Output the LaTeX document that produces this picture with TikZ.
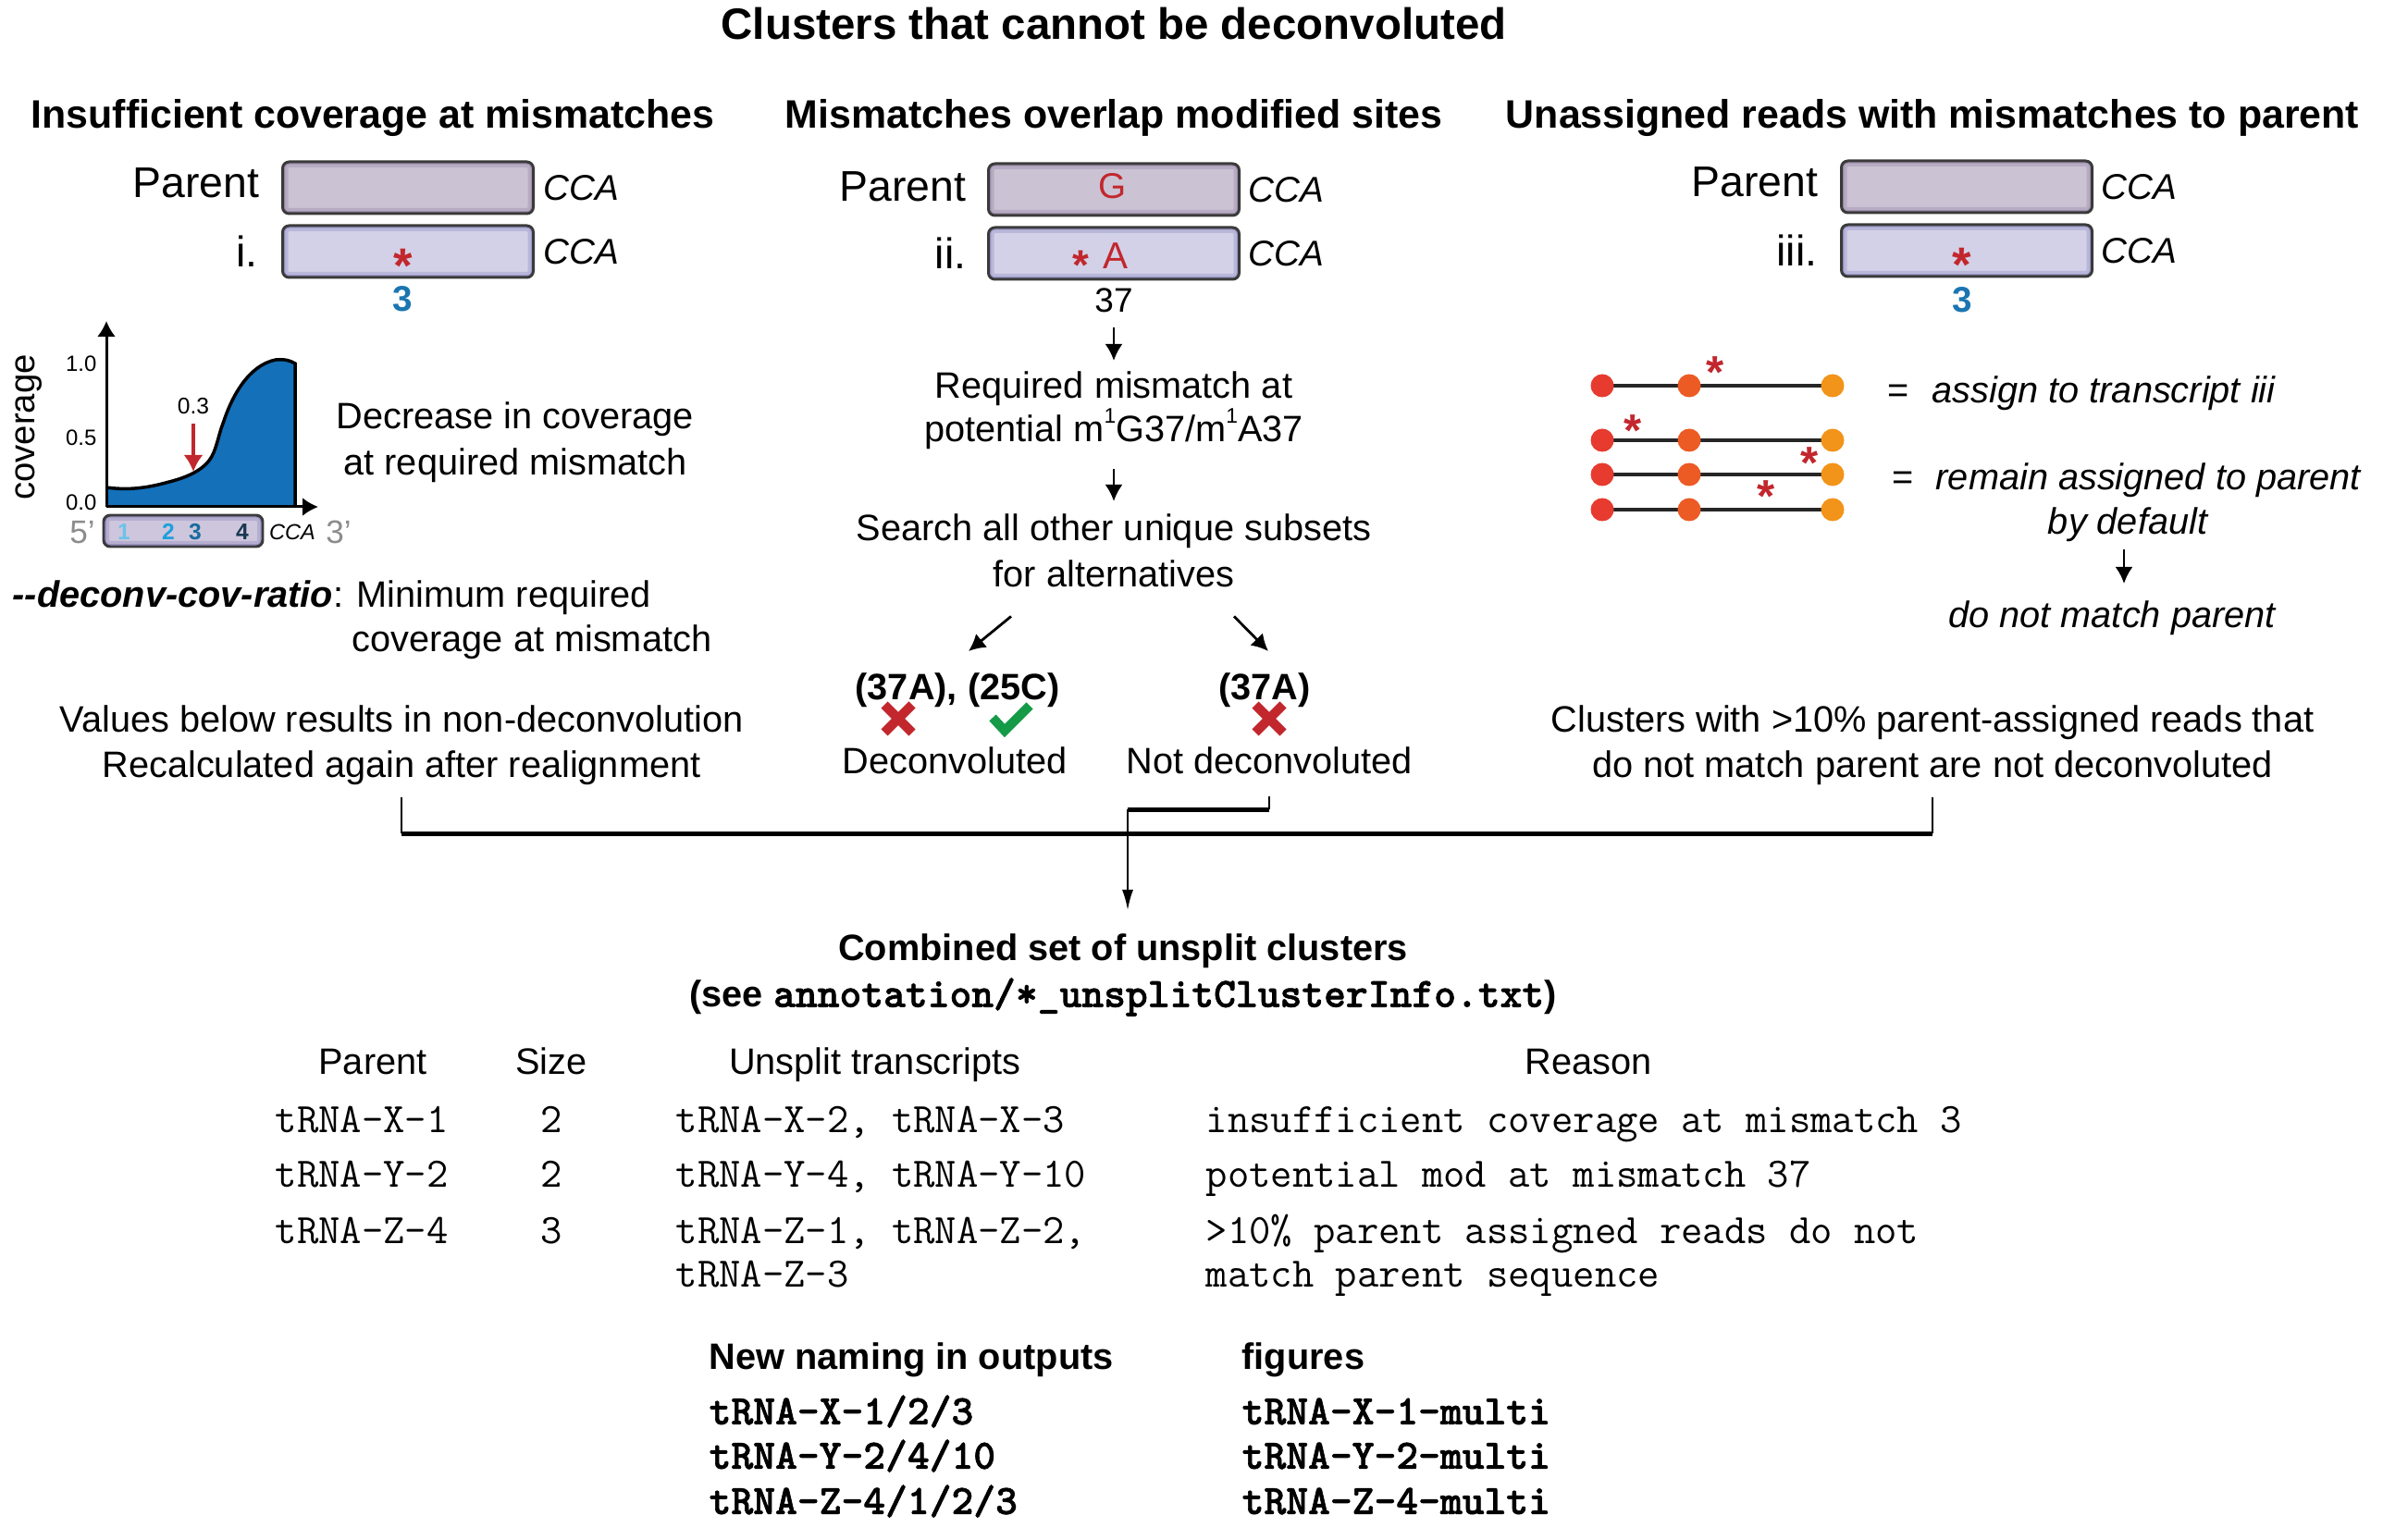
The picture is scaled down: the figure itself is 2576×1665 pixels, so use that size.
\documentclass[tikz,border=0pt]{standalone}
\usepackage{fontspec}
\setmainfont{Liberation Sans}
\usepackage{xcolor}
\usepackage{tikz}
\usetikzlibrary{positioning}
\usetikzlibrary{backgrounds}
\usetikzlibrary{calc}
\usetikzlibrary{arrows.meta}

\definecolor{markred}{HTML}{C1272D}
\definecolor{markgreen}{HTML}{159A48}
\definecolor{numblue}{HTML}{1B75B0}
\definecolor{covfill}{HTML}{1470B8}
\definecolor{boxedge}{HTML}{3A3A3A}
\definecolor{parentfill}{HTML}{CBC3D3}
\definecolor{parentglow}{HTML}{6E5A86}
\definecolor{variantfill}{HTML}{D2D1E7}
\definecolor{variantglow}{HTML}{5E5AA8}
\definecolor{minifill}{HTML}{CEC6DC}
\definecolor{posA}{HTML}{6CC3E9}
\definecolor{posB}{HTML}{1DA0DB}
\definecolor{posC}{HTML}{1A6C9E}
\definecolor{posD}{HTML}{18384F}
\definecolor{endgray}{HTML}{8C8C8C}
\definecolor{readA}{HTML}{E63B2E}
\definecolor{readB}{HTML}{EC5B24}
\definecolor{readC}{HTML}{F3941A}

\newfontfamily\codeboldfamily[FakeBold=1.4]{lmmonolt10-bold.otf}
\newcommand{\codefont}{\fontsize{12.9}{15}\selectfont\ttfamily}
\newcommand{\codebold}{\fontsize{12.9}{15}\selectfont\codeboldfamily}
\newcommand{\supone}{\raisebox{0.95ex}{\fontsize{6.5}{7}\selectfont 1}}

\tikzset{
  txt/.style={inner sep=0pt, text height=2.86mm, text depth=0pt, font=\fontsize{11.3}{13.6}\selectfont},
  itxt/.style={txt, font=\fontsize{11.3}{13.6}\selectfont\itshape},
  boldtxt/.style={txt, font=\fontsize{11.3}{13.6}\selectfont\bfseries},
  head/.style={inner sep=0pt, text height=3.08mm, text depth=0pt, font=\fontsize{12.2}{14.6}\selectfont\bfseries},
  titletxt/.style={inner sep=0pt, text height=3.41mm, text depth=0pt, font=\fontsize{13.5}{16}\selectfont\bfseries},
  bigtxt/.style={inner sep=0pt, text height=3.33mm, text depth=0pt, font=\fontsize{13.2}{15.8}\selectfont},
  ccatxt/.style={inner sep=0pt, text height=2.8mm, text depth=0pt, font=\fontsize{11}{13}\selectfont\itshape},
  ticktxt/.style={inner sep=0pt, text height=1.72mm, text depth=0pt, font=\fontsize{6.8}{8}\selectfont},
  posnum/.style={inner sep=0pt, text height=2.8mm, text depth=0pt, text=numblue, font=\fontsize{11}{13}\selectfont\bfseries},
  mininum/.style={inner sep=0pt, text height=1.77mm, text depth=0pt, font=\fontsize{7}{8}\selectfont\bfseries},
  endtxt/.style={inner sep=0pt, text height=2.5mm, text depth=0pt, text=endgray, font=\fontsize{10}{12}\selectfont},
  boxletter/.style={inner sep=0pt, text height=2.8mm, text depth=0pt, text=markred, font=\fontsize{11}{13}\selectfont},
  boxstar/.style={inner sep=0pt, text height=3.79mm, text depth=0pt, yshift=-1mm, text=markred, font=\fontsize{15}{15}\selectfont\bfseries},
  smallstar/.style={inner sep=0pt, text height=3.29mm, text depth=0pt, yshift=-0.9mm, text=markred, font=\fontsize{13}{13}\selectfont\bfseries},
  readstar/.style={inner sep=0pt, text height=3.54mm, text depth=0pt, yshift=-0.8mm, text=markred, font=\fontsize{14}{14}\selectfont\bfseries},
  cell/.style={inner sep=0pt, text height=2.78mm, text depth=0pt, anchor=west, font=\codefont},
  cellc/.style={cell, anchor=center},
  boldcell/.style={cell, font=\codebold},
  glow/.style={path picture={
    \draw[#1, line width=1.2mm, opacity=0.22] (path picture bounding box.south west) rectangle (path picture bounding box.north east);
    \draw[#1, line width=0.55mm, opacity=0.3] (path picture bounding box.south west) rectangle (path picture bounding box.north east);}},
  parentbox/.style={draw=boxedge, line width=0.85pt, fill=parentfill, rounded corners=0.7mm, minimum width=27.1mm, minimum height=5.6mm, inner sep=0pt, glow=parentglow},
  variantbox/.style={parentbox, fill=variantfill, glow=variantglow},
  minibox/.style={parentbox, fill=minifill, glow=variantglow, minimum width=17.2mm, minimum height=3.4mm},
  readdot/.style={circle, inner sep=0pt, minimum size=2.5mm},
  readline/.style={draw=black!85, line width=0.32mm},
  arr/.style={-{Latex[length=1.8mm,width=1.9mm]}, line width=0.28mm},
  axis/.style={-{Latex[length=1.7mm,width=2mm]}, line width=0.3mm},
  cutarrow/.style={-{Latex[length=1.8mm,width=2.1mm]}, line width=0.35mm, draw=markred},
  feed/.style={line width=0.2mm},
  busline/.style={line width=0.5mm},
  feedarrow/.style={-{Latex[length=2.2mm,width=1.2mm]}, line width=0.2mm},
  crossmark/.style={draw=markred, line width=1mm},
  checkmark/.style={draw=markgreen, line width=1mm, line join=miter}
}

\begin{document}
\begin{tikzpicture}[x=0.1mm, y=-0.1mm]
 \useasboundingbox (0,0) rectangle (2576,1665);

 % title and column heads
 \node (title) [titletxt] at (1204,25) {Clusters that cannot be deconvoluted};
 \node (covhead) [head] at (403,123) {Insufficient coverage at mismatches};
 \node (modhead) [head] at (1204,123) {Mismatches overlap modified sites};
 \node (readhead) [head] at (2089,123) {Unassigned reads with mismatches to parent};

 % left column: insufficient coverage
 \node (parA) [parentbox] at (441,203) {};
 \node (varA) [variantbox] at (441,272) {};
 \node (parAname) [bigtxt, left=2.3mm of parA, yshift=0.6mm] {Parent};
 \node (varAname) [bigtxt, left=2.5mm of varA] {i.};
 \node (parAend) [ccatxt, right=0.9mm of parA] {CCA};
 \node (varAend) [ccatxt, right=0.9mm of varA] {CCA};
 \node (varAstar) [boxstar] at (436,277) {*};
 \node (varApos) [posnum] at (435,323) {3};

 \fill[covfill] (115,527) .. controls (130,529) and (150,530) .. (179,522) .. controls (195,518) and (215,512) .. (226,498) .. controls (234,488) and (236,470) .. (241,458) .. controls (250,430) and (268,395) .. (298,389) .. controls (308,388) and (314,390) .. (319,393) -- (319,548) -- (115,548) -- cycle;
 \draw[line width=0.35mm] (115,527) .. controls (130,529) and (150,530) .. (179,522) .. controls (195,518) and (215,512) .. (226,498) .. controls (234,488) and (236,470) .. (241,458) .. controls (250,430) and (268,395) .. (298,389) .. controls (308,388) and (314,390) .. (319,393) -- (319,548);
 \coordinate (origin) at (115,548);
 \draw[axis] (origin) -- (115,347);
 \draw[axis] (origin) -- (344,548);
 \node (tickhi) [ticktxt, anchor=east] at (105,393) {1.0};
 \node (tickmid) [ticktxt, anchor=east] at (105,473) {0.5};
 \node (ticklo) [ticktxt, anchor=east] at (105,543) {0.0};
 \node (covlabel) [txt, font=\fontsize{10.9}{12}\selectfont, rotate=90] at (23,462) {coverage};
 \node (cut) [ticktxt, font=\fontsize{7}{8}\selectfont] at (209,439) {0.3};
 \coordinate (dip) at (209,510);
 \draw[cutarrow] ([yshift=-1mm]cut.south) -- (dip);

 \node (mini) [minibox] at (198,574) {};
 \node (miniA) [mininum, text=posA] at (134,575) {1};
 \node (miniB) [mininum, text=posB] at (182,575) {2};
 \node (miniC) [mininum, text=posC] at (211,575) {3};
 \node (miniD) [mininum, text=posD] at (262,575) {4};
 \node (fiveend) [endtxt] at (89,575) {5’};
 \node (minicca) [ticktxt, font=\fontsize{6.7}{8}\selectfont\itshape] at (316,575) {CCA};
 \node (threeend) [endtxt] at (366,575) {3’};

 \node (drop) [txt] at (557,449) {Decrease in coverage};
 \node (drop2) [txt, below=2.04mm of drop] {at required mismatch};

 \node (ratio) [txt, anchor=west] at (13,642) {\textbf{\textit{{-}{-}deconv-cov-ratio}}: Minimum required};
 \node (ratio2) [txt, anchor=west] at (380,690) {coverage at mismatch};
 \node (values) [txt] at (434,777) {Values below results in non-deconvolution};
 \node (recalc) [txt, below=1.94mm of values] {Recalculated again after realignment};

 % middle column: modified sites
 \node (parB) [parentbox] at (1204,205) {};
 \node (varB) [variantbox] at (1204,274) {};
 \node (parBname) [bigtxt, left=2.2mm of parB, yshift=0.4mm] {Parent};
 \node (varBname) [bigtxt, left=2.2mm of varB] {ii.};
 \node (parBend) [ccatxt, right=0.8mm of parB] {CCA};
 \node (varBend) [ccatxt, right=0.8mm of varB] {CCA};
 \node (parBbase) [boxletter] at (1203,201) {G};
 \node (varBstar) [smallstar] at (1168,277) {*};
 \node (varBbase) [boxletter, font=\fontsize{11.5}{13}\selectfont] at (1206,277) {A};
 \node (num37) [txt, font=\fontsize{10.5}{12}\selectfont, text height=2.65mm] at (1204,324) {37};

 \node (req) [txt] at (1204,416) {Required mismatch at};
 \node (pot) [txt, below=1.74mm of req] {potential m\supone G37/m\supone A37};
 \node (search) [txt] at (1204,570) {Search all other unique subsets};
 \node (alt) [txt, below=2.04mm of search] {for alternatives};

 \node (split) [boldtxt] at (1035,742) {(37A), (25C)};
 \node (nosplit) [boldtxt] at (1367,742) {(37A)};
 \node (dec) [txt] at (1032,822) {Deconvoluted};
 \node (notdec) [txt] at (1372,822) {Not deconvoluted};

 \draw[arr] ([yshift=-1.6mm]num37.south) -- ([yshift=1.1mm]req.north);
 \draw[arr] ([yshift=-2.9mm]pot.south) -- ([yshift=1.3mm]search.north);
 \draw[arr] ($(alt.south)+(-111,31)$) -- ($(split.north)+(12,-23)$);
 \draw[arr] ($(alt.south)+(130,31)$) -- ($(nosplit.north)+(4,-23)$);

 \draw[crossmark] (956,762) -- (986,792);
 \draw[crossmark] (956,792) -- (986,762);
 \draw[checkmark] (1073,776) -- (1086,790) -- (1113,763);
 \draw[crossmark] (1357,762) -- (1387,792);
 \draw[crossmark] (1357,792) -- (1387,762);

 % right column: unassigned reads
 \node (parC) [parentbox] at (2126,202) {};
 \node (varC) [variantbox] at (2126,271) {};
 \node (parCname) [bigtxt, left=2.3mm of parC, yshift=0.6mm] {Parent};
 \node (varCname) [bigtxt, left=2.4mm of varC] {iii.};
 \node (parCend) [ccatxt, right=0.8mm of parC] {CCA};
 \node (varCend) [ccatxt, right=0.8mm of varC] {CCA};
 \node (varCstar) [boxstar] at (2121,276) {*};
 \node (varCpos) [posnum] at (2121,324) {3};

 \node (rdA1) [readdot, fill=readA] at (1732,417) {};
 \node (rdB1) [readdot, fill=readB] at (1826,417) {};
 \node (rdC1) [readdot, fill=readC] at (1981,417) {};
 \node (rdA2) [readdot, fill=readA] at (1732,476) {};
 \node (rdB2) [readdot, fill=readB] at (1826,476) {};
 \node (rdC2) [readdot, fill=readC] at (1981,476) {};
 \node (rdA3) [readdot, fill=readA] at (1732,513) {};
 \node (rdB3) [readdot, fill=readB] at (1826,513) {};
 \node (rdC3) [readdot, fill=readC] at (1981,513) {};
 \node (rdA4) [readdot, fill=readA] at (1732,551) {};
 \node (rdB4) [readdot, fill=readB] at (1826,551) {};
 \node (rdC4) [readdot, fill=readC] at (1981,551) {};
 \node (rdS1) [readstar] at (1854,394) {*};
 \node (rdS2) [readstar] at (1765,457) {*};
 \node (rdS3) [readstar] at (1956,492) {*};
 \node (rdS4) [readstar] at (1909,528) {*};

 \node (eqA) [txt] at (2052,421) {=};
 \node (assign) [itxt, anchor=west] at (2088,421) {assign to transcript iii};
 \node (eqB) [txt] at (2057,515) {=};
 \node (remain) [itxt, anchor=west] at (2092,515) {remain assigned to parent};
 \node (default) [itxt] at (2300,563) {by default};
 \node (nomatch) [itxt] at (2283,664) {do not match parent};
 \draw[arr] ([xshift=-0.4mm,yshift=-1.6mm]default.south) -- ([xshift=-0.4mm,yshift=1.8mm]default.south |- nomatch.north);

 \node (clusA) [txt] at (2089,777) {Clusters with >10\% parent-assigned reads that};
 \node (clusB) [txt, below=1.94mm of clusA] {do not match parent are not deconvoluted};

 % joining lines
 \coordinate (bus) at (0,901);
 \coordinate (bend) at (1219,875);
 \draw[feed] ([yshift=-2.1mm]recalc.south) -- (recalc.south |- bus);
 \draw[feed] ([yshift=-2.1mm]clusB.south) -- (clusB.south |- bus);
 \draw[busline] (recalc.south |- bus) -- (clusB.south |- bus);
 \draw[feed] ([yshift=-2.4mm]notdec.south) -- (notdec.south |- bend);
 \draw[busline] (notdec.south |- bend) -- (bend);

 % combined table
 \node (combined) [boldtxt] at (1214,1024) {Combined set of unsplit clusters};
 \node (seefile) [boldtxt, below=2.04mm of combined] {(see {\codebold annotation/*\_unsplitClusterInfo.txt})};
 \draw[feedarrow] (bend) -- ([yshift=2.5mm]bend |- combined.north);

 \node (hParent) [txt] at (403,1147) {Parent};
 \node (hSize) [txt] at (596,1147) {Size};
 \node (hUnsplit) [txt] at (946,1147) {Unsplit transcripts};
 \node (hReason) [txt] at (1717,1147) {Reason};

 \node (pX) [cell] at (297,1211) {tRNA-X-1};
 \node (pY) [cell, below=5.9mm of pX.west, anchor=west] {tRNA-Y-2};
 \node (pZ) [cell, below=6.1mm of pY.west, anchor=west] {tRNA-Z-4};

 \node (sX) [cellc] at (596,1211) {2};
 \node (sY) [cellc] at (sX |- pY) {2};
 \node (sZ) [cellc] at (sX |- pZ) {3};

 \node (uX) [cell] at (730,1211) {tRNA-X-2, tRNA-X-3};
 \node (uY) [cell] at (uX.west |- pY) {tRNA-Y-4, tRNA-Y-10};
 \node (uZ) [cell] at (uX.west |- pZ) {tRNA-Z-1, tRNA-Z-2,};
 \node (uZb) [cell, below=4.7mm of uZ.west, anchor=west] {tRNA-Z-3};

 \node (rX) [cell] at (1303,1211) {insufficient coverage at mismatch 3};
 \node (rY) [cell] at (rX.west |- pY) {potential mod at mismatch 37};
 \node (rZ) [cell] at (rX.west |- pZ) {>10\% parent assigned reads do not};
 \node (rZb) [cell] at (rX.west |- uZb) {match parent sequence};

 \node (newname) [boldtxt, anchor=west] at (766,1466) {New naming in outputs};
 \node (figname) [boldtxt, anchor=west] at (1342,1466) {figures};
 \node (nX) [boldcell] at (766,1526) {tRNA-X-1/2/3};
 \node (nY) [boldcell, below=4.8mm of nX.west, anchor=west] {tRNA-Y-2/4/10};
 \node (nZ) [boldcell, below=4.9mm of nY.west, anchor=west] {tRNA-Z-4/1/2/3};
 \node (fX) [boldcell] at (1342,1526) {tRNA-X-1-multi};
 \node (fY) [boldcell] at (fX.west |- nY) {tRNA-Y-2-multi};
 \node (fZ) [boldcell] at (fX.west |- nZ) {tRNA-Z-4-multi};

 \begin{scope}[on background layer]
   \draw[readline] (rdA1.center) -- (rdC1.center);
   \draw[readline] (rdA2.center) -- (rdC2.center);
   \draw[readline] (rdA3.center) -- (rdC3.center);
   \draw[readline] (rdA4.center) -- (rdC4.center);
 \end{scope}
\end{tikzpicture}
\end{document}
